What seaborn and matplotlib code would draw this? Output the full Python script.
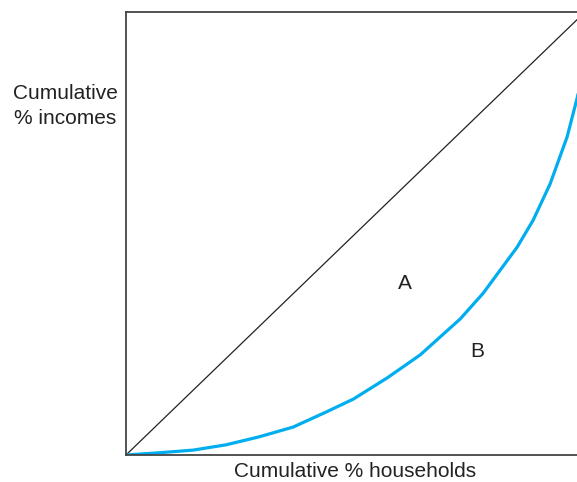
import numpy as np
import pandas as pd
import matplotlib
matplotlib.use("Agg")
import matplotlib.pyplot as plt
import seaborn as sns

# Lorenz curve (share of households vs share of incomes)
households = [0.0, 0.072, 0.146, 0.218, 0.290, 0.364, 0.436, 0.495, 0.569,
              0.641, 0.728, 0.778, 0.852, 0.887, 0.924, 0.961, 0.983, 1.0]
incomes = [0.0, 0.005, 0.011, 0.023, 0.041, 0.063, 0.097, 0.126, 0.174,
           0.226, 0.307, 0.365, 0.469, 0.530, 0.612, 0.718, 0.806, 0.89]
equality = [0.0, 1.0]

region_labels = ["A", "B"]
region_x = [0.608, 0.765]
region_y = [0.388, 0.233]

sns.set_style("white")
plt.rcParams['font.family'] = ['Liberation Sans', 'DejaVu Sans']

fig = plt.figure(figsize=(5.77, 4.82), dpi=100)
ax = fig.add_axes([126/577, 27/482, 459/577, 443/482])

df = pd.DataFrame({"households": households, "incomes": incomes})
sns.lineplot(x=equality, y=equality, ax=ax, color="#222222", linewidth=0.9)
sns.lineplot(data=df, x="households", y="incomes", ax=ax,
             color="#00aeef", linewidth=2.3)

for lab, x, y in zip(region_labels, region_x, region_y):
    ax.text(x, y, lab, fontsize=15, ha="center", va="center", color="#222222")

ax.set_xlim(0, 1)
ax.set_ylim(0, 1)
ax.set_xticks([])
ax.set_yticks([])
ax.set_xlabel("Cumulative % households", fontsize=15, labelpad=5, color="#222222")
ax.set_ylabel("")
fig.text(65/577, 1 - 106/482, "Cumulative\n% incomes", fontsize=15,
         ha="center", va="center", color="#222222", linespacing=1.35)

for s in ax.spines.values():
    s.set_color("#444444")
    s.set_linewidth(1.3)

fig.savefig("out.png", dpi=100)
